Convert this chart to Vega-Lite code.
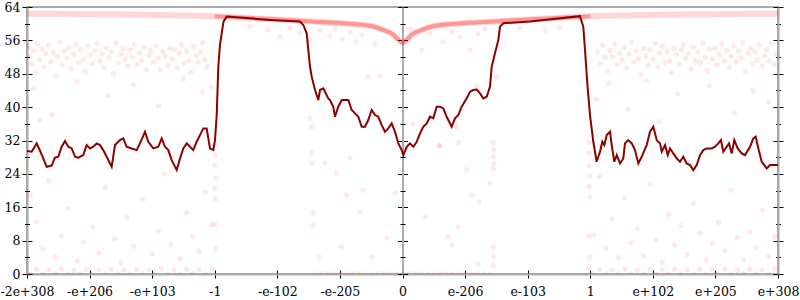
{
  "$schema": "https://vega.github.io/schema/vega-lite/v6.json",
  "width": 751,
  "height": 267,
  "autosize": {"type": "none"},
  "padding": {"left": 27, "top": 7, "right": 22, "bottom": 26},
  "background": "white",
  "config": {
    "view": {"stroke": "#aaa", "strokeWidth": 2},
    "axis": {"labelFont": "DejaVu Serif", "labelFontSize": 12.5, "labelColor": "#000", "tickColor": "#000", "tickWidth": 1, "domainColor": "#aaa", "domainWidth": 2, "grid": false}
  },
  "datasets": {
    "line": [
      {"x":-6.0,"y":29.5},{"x":-5.925,"y":29.3},{"x":-5.845,"y":31.3},{"x":-5.793,"y":29.6},{"x":-5.74,"y":27.7},{"x":-5.686,"y":25.7},{"x":-5.606,"y":26.0},{"x":-5.553,"y":27.9},{"x":-5.5,"y":28.1},{"x":-5.446,"y":30.5},{"x":-5.393,"y":31.9},{"x":-5.34,"y":30.5},{"x":-5.286,"y":30.1},{"x":-5.233,"y":28.1},{"x":-5.18,"y":27.9},{"x":-5.101,"y":28.5},{"x":-5.047,"y":30.9},{"x":-4.994,"y":30.1},{"x":-4.941,"y":30.5},{"x":-4.887,"y":31.3},{"x":-4.834,"y":30.9},{"x":-4.781,"y":29.7},{"x":-4.727,"y":28.1},{"x":-4.647,"y":25.7},{"x":-4.594,"y":30.9},{"x":-4.514,"y":32.1},{"x":-4.461,"y":32.5},{"x":-4.407,"y":30.5},{"x":-4.327,"y":30.1},{"x":-4.247,"y":29.7},{"x":-4.195,"y":31.3},{"x":-4.115,"y":34.1},{"x":-4.062,"y":31.7},{"x":-3.982,"y":30.1},{"x":-3.902,"y":30.5},{"x":-3.848,"y":32.5},{"x":-3.795,"y":30.5},{"x":-3.742,"y":29.7},{"x":-3.688,"y":27.3},{"x":-3.608,"y":24.9},{"x":-3.555,"y":27.7},{"x":-3.503,"y":30.1},{"x":-3.448,"y":31.3},{"x":-3.396,"y":30.5},{"x":-3.343,"y":29.7},{"x":-3.289,"y":31.7},{"x":-3.236,"y":33.3},{"x":-3.183,"y":34.9},{"x":-3.129,"y":34.9},{"x":-3.076,"y":30.1},{"x":-3.023,"y":29.7},{"x":-2.996,"y":32.1},{"x":-2.969,"y":38.0},{"x":-2.943,"y":49.7},{"x":-2.916,"y":55.0},{"x":-2.889,"y":57.7},{"x":-2.86,"y":60.5},{"x":-2.809,"y":61.7},{"x":-2.117,"y":60.9},{"x":-1.638,"y":60.5},{"x":-1.585,"y":59.7},{"x":-1.531,"y":57.7},{"x":-1.505,"y":53.7},{"x":-1.478,"y":49.7},{"x":-1.451,"y":47.3},{"x":-1.398,"y":44.1},{"x":-1.345,"y":41.7},{"x":-1.318,"y":44.1},{"x":-1.266,"y":44.5},{"x":-1.238,"y":43.7},{"x":-1.186,"y":42.1},{"x":-1.159,"y":41.7},{"x":-1.106,"y":40.1},{"x":-1.079,"y":37.7},{"x":-1.026,"y":40.1},{"x":-0.972,"y":41.7},{"x":-0.919,"y":41.7},{"x":-0.866,"y":41.7},{"x":-0.812,"y":39.3},{"x":-0.759,"y":38.5},{"x":-0.706,"y":37.7},{"x":-0.652,"y":35.3},{"x":-0.599,"y":35.3},{"x":-0.547,"y":36.9},{"x":-0.492,"y":39.3},{"x":-0.439,"y":38.1},{"x":-0.387,"y":37.7},{"x":-0.332,"y":35.7},{"x":-0.28,"y":34.1},{"x":-0.227,"y":34.9},{"x":-0.173,"y":36.1},{"x":-0.12,"y":34.1},{"x":-0.067,"y":31.3},{"x":-0.013,"y":29.7},{"x":0.013,"y":28.5},{"x":0.067,"y":30.5},{"x":0.12,"y":31.3},{"x":0.173,"y":30.5},{"x":0.227,"y":31.7},{"x":0.28,"y":33.7},{"x":0.332,"y":35.3},{"x":0.387,"y":36.1},{"x":0.439,"y":37.7},{"x":0.492,"y":37.3},{"x":0.547,"y":40.1},{"x":0.599,"y":40.1},{"x":0.652,"y":39.7},{"x":0.706,"y":37.7},{"x":0.786,"y":35.3},{"x":0.839,"y":37.3},{"x":0.892,"y":38.1},{"x":0.946,"y":40.1},{"x":1.026,"y":42.1},{"x":1.079,"y":43.7},{"x":1.131,"y":44.1},{"x":1.186,"y":44.2},{"x":1.238,"y":43.3},{"x":1.291,"y":42.1},{"x":1.345,"y":42.5},{"x":1.398,"y":44.9},{"x":1.425,"y":49.7},{"x":1.478,"y":52.9},{"x":1.531,"y":56.1},{"x":1.558,"y":59.3},{"x":1.611,"y":60.1},{"x":2.037,"y":60.5},{"x":2.836,"y":61.8},{"x":2.889,"y":59.3},{"x":2.916,"y":53.7},{"x":2.953,"y":45.7},{"x":2.996,"y":38.1},{"x":3.049,"y":31.7},{"x":3.102,"y":26.9},{"x":3.156,"y":29.3},{"x":3.193,"y":31.7},{"x":3.225,"y":30.9},{"x":3.263,"y":33.3},{"x":3.316,"y":34.1},{"x":3.343,"y":30.9},{"x":3.384,"y":26.9},{"x":3.423,"y":28.5},{"x":3.476,"y":26.5},{"x":3.528,"y":27.7},{"x":3.555,"y":31.3},{"x":3.608,"y":32.1},{"x":3.663,"y":31.3},{"x":3.715,"y":29.7},{"x":3.768,"y":26.5},{"x":3.822,"y":28.1},{"x":3.902,"y":30.9},{"x":3.955,"y":34.1},{"x":4.008,"y":35.3},{"x":4.062,"y":32.1},{"x":4.115,"y":31.3},{"x":4.142,"y":29.3},{"x":4.195,"y":30.9},{"x":4.238,"y":28.5},{"x":4.275,"y":30.1},{"x":4.327,"y":28.9},{"x":4.382,"y":27.7},{"x":4.434,"y":26.9},{"x":4.487,"y":28.1},{"x":4.541,"y":26.5},{"x":4.594,"y":26.1},{"x":4.647,"y":24.9},{"x":4.701,"y":26.1},{"x":4.754,"y":28.5},{"x":4.807,"y":29.7},{"x":4.861,"y":30.1},{"x":4.941,"y":30.1},{"x":4.994,"y":30.5},{"x":5.046,"y":31.3},{"x":5.089,"y":32.1},{"x":5.126,"y":29.3},{"x":5.181,"y":30.5},{"x":5.217,"y":31.3},{"x":5.26,"y":28.9},{"x":5.302,"y":32.1},{"x":5.356,"y":30.1},{"x":5.42,"y":28.9},{"x":5.473,"y":28.5},{"x":5.553,"y":30.5},{"x":5.606,"y":32.5},{"x":5.644,"y":32.9},{"x":5.686,"y":30.1},{"x":5.74,"y":26.9},{"x":5.82,"y":25.3},{"x":5.873,"y":26.1},{"x":6.0,"y":26.1}
    ],
    "band": [
      {"x":-6,"y":62.4},{"x":-4.5,"y":62.2},{"x":-3,"y":61.8},{"x":-2.6,"y":61.5},{"x":-2.12,"y":61.1},{"x":-1.64,"y":60.7},{"x":-1.05,"y":60.2},{"x":-0.52,"y":59.5},{"x":-0.31,"y":58.5},{"x":-0.15,"y":57.4},{"x":-0.07,"y":56.2},{"x":0,"y":55.5},{"x":0.07,"y":56.2},{"x":0.15,"y":57.4},{"x":0.31,"y":58.5},{"x":0.52,"y":59.5},{"x":1.05,"y":60.2},{"x":1.64,"y":60.7},{"x":2.12,"y":61.1},{"x":2.6,"y":61.5},{"x":3,"y":61.8},{"x":4.5,"y":62.2},{"x":6,"y":62.4}
    ],
    "curve": [
      {"x":-3,"y":61.8},{"x":-2.6,"y":61.5},{"x":-2.12,"y":61.1},{"x":-1.64,"y":60.7},{"x":-1.05,"y":60.2},{"x":-0.52,"y":59.5},{"x":-0.31,"y":58.5},{"x":-0.15,"y":57.4},{"x":-0.07,"y":56.2},{"x":0,"y":55.5},{"x":0.07,"y":56.2},{"x":0.15,"y":57.4},{"x":0.31,"y":58.5},{"x":0.52,"y":59.5},{"x":1.05,"y":60.2},{"x":1.64,"y":60.7},{"x":2.12,"y":61.1},{"x":2.6,"y":61.5},{"x":3,"y":61.8}
    ],
    "pts": [
      {"x":-5.97,"y":54.5},{"x":-5.95,"y":52.1},{"x":-5.92,"y":50.3},{"x":-5.9,"y":53.6},{"x":-5.86,"y":48.2},{"x":-5.83,"y":55.2},{"x":-5.8,"y":51.4},{"x":-5.76,"y":53.9},{"x":-5.73,"y":49.6},{"x":-5.7,"y":52.8},{"x":-5.66,"y":54.9},{"x":-5.62,"y":50.9},{"x":-5.58,"y":53.1},{"x":-5.55,"y":47.5},{"x":-5.51,"y":52.2},{"x":-5.47,"y":55.6},{"x":-5.44,"y":50.1},{"x":-5.4,"y":53.4},{"x":-5.36,"y":51.7},{"x":-5.33,"y":54.3},{"x":-5.29,"y":49.2},{"x":-5.25,"y":52.6},{"x":-5.22,"y":55.0},{"x":-5.18,"y":50.7},{"x":-5.14,"y":53.8},{"x":-5.1,"y":51.3},{"x":-5.07,"y":48.6},{"x":-5.03,"y":54.6},{"x":-4.99,"y":52.4},{"x":-4.95,"y":50.4},{"x":-4.92,"y":53.5},{"x":-4.88,"y":55.3},{"x":-4.84,"y":51.0},{"x":-4.8,"y":52.9},{"x":-4.77,"y":49.5},{"x":-4.73,"y":54.1},{"x":-4.69,"y":51.9},{"x":-4.65,"y":53.2},{"x":-4.62,"y":48.0},{"x":-4.58,"y":55.4},{"x":-4.54,"y":50.6},{"x":-4.5,"y":52.7},{"x":-4.47,"y":54.0},{"x":-4.43,"y":51.5},{"x":-4.39,"y":49.8},{"x":-4.35,"y":53.7},{"x":-4.32,"y":52.0},{"x":-4.28,"y":55.1},{"x":-4.24,"y":50.2},{"x":-4.2,"y":53.0},{"x":-4.17,"y":51.2},{"x":-4.13,"y":54.4},{"x":-4.09,"y":49.0},{"x":-4.05,"y":52.5},{"x":-4.02,"y":53.6},{"x":-3.98,"y":50.8},{"x":-3.94,"y":54.7},{"x":-3.9,"y":51.8},{"x":-3.87,"y":48.9},{"x":-3.83,"y":53.3},{"x":-3.79,"y":52.2},{"x":-3.75,"y":50.0},{"x":-3.72,"y":54.2},{"x":-3.68,"y":51.6},{"x":-3.64,"y":53.9},{"x":-3.6,"y":49.4},{"x":-3.57,"y":52.9},{"x":-3.53,"y":55.0},{"x":-3.49,"y":50.5},{"x":-3.45,"y":53.4},{"x":-3.42,"y":51.1},{"x":-3.38,"y":48.4},{"x":-3.34,"y":54.5},{"x":-3.3,"y":52.3},{"x":-3.27,"y":50.9},{"x":-3.23,"y":53.1},{"x":-3.19,"y":55.5},{"x":-3.16,"y":51.4},{"x":-3.12,"y":49.7},
      {"x":3.12,"y":53.2},{"x":3.16,"y":50.4},{"x":3.2,"y":54.8},{"x":3.24,"y":51.9},{"x":3.28,"y":48.7},{"x":3.32,"y":53.6},{"x":3.35,"y":52.1},{"x":3.39,"y":55.2},{"x":3.43,"y":50.2},{"x":3.47,"y":53.0},{"x":3.51,"y":51.3},{"x":3.54,"y":54.3},{"x":3.58,"y":49.3},{"x":3.62,"y":52.7},{"x":3.66,"y":55.7},{"x":3.7,"y":50.8},{"x":3.73,"y":53.5},{"x":3.77,"y":51.6},{"x":3.81,"y":47.8},{"x":3.85,"y":54.1},{"x":3.89,"y":52.3},{"x":3.92,"y":50.0},{"x":3.96,"y":53.8},{"x":4.0,"y":51.4},{"x":4.04,"y":55.3},{"x":4.08,"y":49.6},{"x":4.11,"y":52.9},{"x":4.15,"y":54.6},{"x":4.19,"y":50.6},{"x":4.23,"y":53.3},{"x":4.27,"y":51.0},{"x":4.3,"y":48.3},{"x":4.34,"y":54.0},{"x":4.38,"y":52.6},{"x":4.42,"y":50.3},{"x":4.46,"y":53.7},{"x":4.49,"y":55.0},{"x":4.53,"y":51.7},{"x":4.57,"y":52.8},{"x":4.61,"y":49.1},{"x":4.65,"y":54.4},{"x":4.68,"y":51.2},{"x":4.72,"y":53.1},{"x":4.76,"y":50.7},{"x":4.8,"y":55.4},{"x":4.84,"y":52.0},{"x":4.87,"y":48.8},{"x":4.91,"y":53.9},{"x":4.95,"y":51.5},{"x":4.99,"y":54.2},{"x":5.03,"y":50.1},{"x":5.06,"y":52.5},{"x":5.1,"y":55.1},{"x":5.14,"y":51.0},{"x":5.18,"y":53.6},{"x":5.22,"y":49.5},{"x":5.25,"y":52.2},{"x":5.29,"y":54.7},{"x":5.33,"y":50.9},{"x":5.37,"y":53.4},{"x":5.41,"y":51.8},{"x":5.44,"y":55.5},{"x":5.48,"y":48.5},{"x":5.52,"y":52.9},{"x":5.56,"y":54.1},{"x":5.6,"y":50.5},{"x":5.63,"y":53.2},{"x":5.67,"y":51.3},{"x":5.71,"y":54.9},{"x":5.75,"y":49.9},{"x":5.79,"y":52.4},{"x":5.82,"y":53.8},{"x":5.86,"y":51.1},{"x":5.9,"y":55.2},{"x":5.94,"y":50.3},{"x":5.97,"y":52.7},
      {"x":-5.9,"y":44.5},{"x":-5.6,"y":38.2},{"x":-5.2,"y":46.1},{"x":-4.7,"y":42.8},{"x":-4.3,"y":45.4},{"x":-3.9,"y":40.3},{"x":-3.5,"y":46.8},{"x":-3.2,"y":43.6},{"x":-5.8,"y":36.9},{"x":-3.05,"y":44.8},
      {"x":3.1,"y":41.9},{"x":3.3,"y":45.8},{"x":3.6,"y":39.4},{"x":3.9,"y":46.3},{"x":4.4,"y":43.2},{"x":4.9,"y":45.1},{"x":5.3,"y":38.6},{"x":5.6,"y":44.0},{"x":5.85,"y":41.2},{"x":4.1,"y":36.5},
      {"x":-5.95,"y":19.0},{"x":-5.85,"y":12.5},{"x":-5.75,"y":6.0},{"x":-5.65,"y":22.3},{"x":-5.55,"y":4.1},{"x":-5.45,"y":9.2},{"x":-5.35,"y":15.8},{"x":-5.2,"y":3.2},{"x":-5.1,"y":7.7},{"x":-4.95,"y":11.2},{"x":-4.85,"y":5.1},{"x":-4.75,"y":20.8},{"x":-4.6,"y":8.4},{"x":-4.5,"y":2.7},{"x":-4.4,"y":13.6},{"x":-4.3,"y":6.6},{"x":-4.15,"y":17.9},{"x":-4.0,"y":4.8},{"x":-3.9,"y":10.3},{"x":-3.8,"y":24.0},{"x":-3.7,"y":7.1},{"x":-3.55,"y":3.6},{"x":-3.45,"y":14.7},{"x":-3.35,"y":8.9},{"x":-3.25,"y":5.4},{"x":-3.15,"y":19.6},{"x":-3.05,"y":11.8},
      {"x":3.05,"y":9.5},{"x":3.15,"y":23.4},{"x":3.25,"y":6.2},{"x":3.35,"y":13.1},{"x":3.45,"y":3.9},{"x":3.55,"y":18.3},{"x":3.65,"y":7.6},{"x":3.75,"y":10.9},{"x":3.85,"y":4.4},{"x":3.95,"y":21.5},{"x":4.05,"y":8.1},{"x":4.15,"y":2.9},{"x":4.25,"y":14.2},{"x":4.35,"y":6.9},{"x":4.45,"y":11.6},{"x":4.55,"y":4.7},{"x":4.65,"y":16.9},{"x":4.75,"y":9.8},{"x":4.85,"y":3.3},{"x":4.95,"y":7.4},{"x":5.05,"y":12.4},{"x":5.15,"y":5.6},{"x":5.25,"y":20.1},{"x":5.35,"y":8.7},{"x":5.45,"y":3.5},{"x":5.55,"y":10.1},{"x":5.65,"y":6.4},{"x":5.75,"y":15.3},{"x":5.85,"y":4.2},{"x":5.95,"y":9.0},
      {"x":-5.95,"y":0},{"x":-5.85,"y":1.1},{"x":-5.75,"y":0},{"x":-5.65,"y":1.0},{"x":-5.55,"y":0},{"x":-5.45,"y":1.2},{"x":-5.35,"y":0},{"x":-5.25,"y":0.9},{"x":-5.15,"y":0},{"x":-5.05,"y":1.1},{"x":-4.95,"y":0},{"x":-4.85,"y":1.0},{"x":-4.75,"y":0},{"x":-4.65,"y":1.2},{"x":-4.55,"y":0},{"x":-4.45,"y":0.9},{"x":-4.35,"y":0},{"x":-4.25,"y":1.1},{"x":-4.15,"y":0},{"x":-4.05,"y":1.0},{"x":-3.95,"y":0},{"x":-3.85,"y":1.2},{"x":-3.75,"y":0},{"x":-3.65,"y":0.9},{"x":-3.55,"y":0},{"x":-3.45,"y":1.1},{"x":-3.35,"y":0},{"x":-3.25,"y":1.0},{"x":-3.15,"y":0},{"x":-3.05,"y":1.2},
      {"x":3.05,"y":0},{"x":3.15,"y":1.1},{"x":3.25,"y":0},{"x":3.35,"y":1.0},{"x":3.45,"y":0},{"x":3.55,"y":1.2},{"x":3.65,"y":0},{"x":3.75,"y":0.9},{"x":3.85,"y":0},{"x":3.95,"y":1.1},{"x":4.05,"y":0},{"x":4.15,"y":1.0},{"x":4.25,"y":0},{"x":4.35,"y":1.2},{"x":4.45,"y":0},{"x":4.55,"y":0.9},{"x":4.65,"y":0},{"x":4.75,"y":1.1},{"x":4.85,"y":0},{"x":4.95,"y":1.0},{"x":5.05,"y":0},{"x":5.15,"y":1.2},{"x":5.25,"y":0},{"x":5.35,"y":0.9},{"x":5.45,"y":0},{"x":5.55,"y":1.1},{"x":5.65,"y":0},{"x":5.75,"y":1.0},{"x":5.85,"y":0},{"x":5.95,"y":1.2},
      {"x":-1.4,"y":0},{"x":-1.3,"y":0},{"x":-1.2,"y":0},{"x":-1.1,"y":0},{"x":-1.0,"y":0},{"x":-0.9,"y":0},{"x":-0.8,"y":0},{"x":-0.7,"y":0},{"x":-0.6,"y":0},{"x":-0.5,"y":0},{"x":-0.4,"y":0},{"x":-0.3,"y":0},{"x":-0.2,"y":0},{"x":-0.1,"y":0},{"x":0,"y":0},{"x":0.1,"y":0},{"x":0.2,"y":0},{"x":0.3,"y":0},{"x":0.4,"y":0},{"x":0.5,"y":0},{"x":0.6,"y":0},{"x":0.7,"y":0},{"x":0.8,"y":0},{"x":0.9,"y":0},{"x":1.0,"y":0},{"x":1.1,"y":0},{"x":1.2,"y":0},{"x":1.3,"y":0},{"x":1.4,"y":0},
      {"x":-1.478,"y":37.4},{"x":-1.451,"y":35.3},{"x":-0.551,"y":47.3},{"x":-0.36,"y":47.5},{"x":-1.451,"y":29.0},{"x":-1.446,"y":26.6},{"x":-1.238,"y":26.6},{"x":-0.839,"y":27.8},{"x":-1.051,"y":24.2},{"x":-0.892,"y":18.9},{"x":-0.636,"y":20.1},{"x":-0.679,"y":14.9},{"x":-1.43,"y":14.6},{"x":-1.43,"y":11.7},{"x":-0.252,"y":8.6},{"x":-0.492,"y":4.1},{"x":-0.972,"y":6.5},{"x":-1.334,"y":4.1},{"x":-0.12,"y":19.4},
      {"x":-1.318,"y":58.4},{"x":-1.159,"y":57.1},{"x":-1.079,"y":58.9},{"x":-0.967,"y":56.3},{"x":-0.839,"y":58.0},{"x":-0.743,"y":55.7},{"x":-0.647,"y":57.4},{"x":-1.638,"y":57.8},{"x":-1.798,"y":59.1},{"x":-1.957,"y":56.9},{"x":-2.149,"y":58.5},{"x":-2.437,"y":59.4},{"x":-1.478,"y":56.2},{"x":-0.439,"y":55.3},
      {"x":0.12,"y":58.7},{"x":0.307,"y":53.7},{"x":0.439,"y":57.5},{"x":0.647,"y":55.7},{"x":0.791,"y":58.2},{"x":0.919,"y":56.9},{"x":1.079,"y":53.7},{"x":1.206,"y":57.6},{"x":1.318,"y":58.8},{"x":1.505,"y":47.3},{"x":1.186,"y":45.0},{"x":0.168,"y":36.0},{"x":0.866,"y":35.3},{"x":0.583,"y":30.8},{"x":1.878,"y":59.0},{"x":2.277,"y":58.3},{"x":2.517,"y":59.2},
      {"x":0.36,"y":13.7},{"x":0.727,"y":8.9},{"x":0.786,"y":7.0},{"x":0.887,"y":11.3},{"x":1.106,"y":18.9},{"x":1.222,"y":17.3},{"x":1.026,"y":25.1},{"x":0.599,"y":30.7},{"x":0.892,"y":31.5},{"x":1.206,"y":2.4},{"x":1.398,"y":21.8},
      {"x":1.45,"y":31.5},{"x":1.46,"y":29.8},{"x":1.45,"y":28.2},{"x":1.46,"y":26.5},{"x":1.45,"y":25.3},{"x":1.45,"y":6.5},{"x":1.46,"y":4.2},{"x":1.45,"y":2.0},
      {"x":-3.0,"y":31.0},{"x":-2.99,"y":28.5},{"x":-3.0,"y":26.0},{"x":-2.99,"y":23.0},{"x":-3.0,"y":20.5},{"x":-2.99,"y":18.0},{"x":-3.0,"y":12.0},{"x":-2.99,"y":6.0},
      {"x":2.98,"y":31.5},{"x":2.99,"y":29.0},{"x":2.98,"y":26.0},{"x":2.99,"y":23.5},{"x":2.98,"y":21.0},{"x":2.99,"y":18.5},{"x":2.98,"y":9.0},{"x":2.99,"y":4.0},{"x":2.98,"y":1.5}
    ]
  },
  "resolve": {"axis": {"x": "independent", "y": "independent"}},
  "layer": [
    {
      "data": {"name": "pts"},
      "mark": {"type": "circle", "color": "#ff0000", "opacity": 0.09, "size": 28, "clip": true},
      "encoding": {
        "x": {"field": "x", "type": "quantitative", "scale": {"domain": [-6, 6], "nice": false, "zero": false},
          "axis": {"orient": "bottom", "title": null, "values": [-6,-5,-4,-3,-2,-1,0,1,2,3,4,5,6], "tickSize": 4, "labelPadding": 7, "labelFlush": false, "labelOverlap": false, "labelFont": "DejaVu Serif",
            "labelExpr": "['-2e+308','-e+206','-e+103','-1','-e-102','-e-205','0','e-206','e-103','1','e+102','e+205','e+308'][datum.value + 6]",
            "encoding": {"ticks": {"y": {"value": -4}}}}},
        "y": {"field": "y", "type": "quantitative", "scale": {"domain": [0, 64], "nice": false, "zero": false},
          "axis": {"orient": "left", "title": null, "values": [0,8,16,24,32,40,48,56,64], "tickSize": 5, "labelPadding": 2, "labelFont": "DejaVu Serif", "encoding": {"ticks": {"x": {"value": 5}}}}}
      }
    },
    {
      "data": {"name": "band"},
      "mark": {"type": "line", "color": "#ff0000", "opacity": 0.16, "strokeWidth": 6, "interpolate": "monotone"},
      "encoding": {
        "x": {"field": "x", "type": "quantitative", "scale": {"domain": [-6, 6], "nice": false, "zero": false}, "axis": null},
        "y": {"field": "y", "type": "quantitative", "scale": {"domain": [0, 64], "nice": false, "zero": false},
          "axis": {"orient": "left", "title": null, "values": [4,12,20,28,36,44,52,60], "tickSize": 2.5, "labels": false, "domain": false, "encoding": {"ticks": {"x": {"value": 2.5}}}}}
      }
    },
    {
      "data": {"name": "curve"},
      "mark": {"type": "line", "color": "#ff0000", "opacity": 0.3, "strokeWidth": 4, "interpolate": "monotone"},
      "encoding": {
        "x": {"field": "x", "type": "quantitative", "scale": {"domain": [-6, 6], "nice": false, "zero": false}, "axis": null},
        "y": {"field": "y", "type": "quantitative", "scale": {"domain": [0, 64], "nice": false, "zero": false},
          "axis": {"orient": "left", "offset": -375.5, "title": null, "values": [0,8,16,24,32,40,48,56,64], "tickSize": 5, "labels": false, "encoding": {"ticks": {"x": {"value": 5}}}}}
      }
    },
    {
      "data": {"name": "curve"},
      "mark": {"type": "point", "opacity": 0},
      "encoding": {
        "x": {"field": "x", "type": "quantitative", "scale": {"domain": [-6, 6], "nice": false, "zero": false}, "axis": null},
        "y": {"field": "y", "type": "quantitative", "scale": {"domain": [0, 64], "nice": false, "zero": false},
          "axis": {"orient": "left", "offset": -375.5, "title": null, "values": [4,12,20,28,36,44,52,60], "tickSize": 2.5, "labels": false, "domain": false, "encoding": {"ticks": {"x": {"value": 2.5}}}}}
      }
    },
    {
      "data": {"name": "curve"},
      "mark": {"type": "point", "opacity": 0},
      "encoding": {
        "x": {"field": "x", "type": "quantitative", "scale": {"domain": [-6, 6], "nice": false, "zero": false}, "axis": null},
        "y": {"field": "y", "type": "quantitative", "scale": {"domain": [0, 64], "nice": false, "zero": false},
          "axis": {"orient": "left", "offset": -751, "title": null, "values": [4,12,20,28,36,44,52,60], "tickSize": 2.5, "labels": false, "domain": false, "encoding": {"ticks": {"x": {"value": 2.5}}}}}
      }
    },
    {
      "data": {"name": "line"},
      "mark": {"type": "line", "color": "#8b0000", "strokeWidth": 2},
      "encoding": {
        "x": {"field": "x", "type": "quantitative", "scale": {"domain": [-6, 6], "nice": false, "zero": false}, "axis": null},
        "y": {"field": "y", "type": "quantitative", "scale": {"domain": [0, 64], "nice": false, "zero": false},
          "axis": {"orient": "left", "offset": -751, "title": null, "values": [0,8,16,24,32,40,48,56,64], "tickSize": 5, "labels": false, "encoding": {"ticks": {"x": {"value": 5}}}}}
      }
    }
  ]
}
